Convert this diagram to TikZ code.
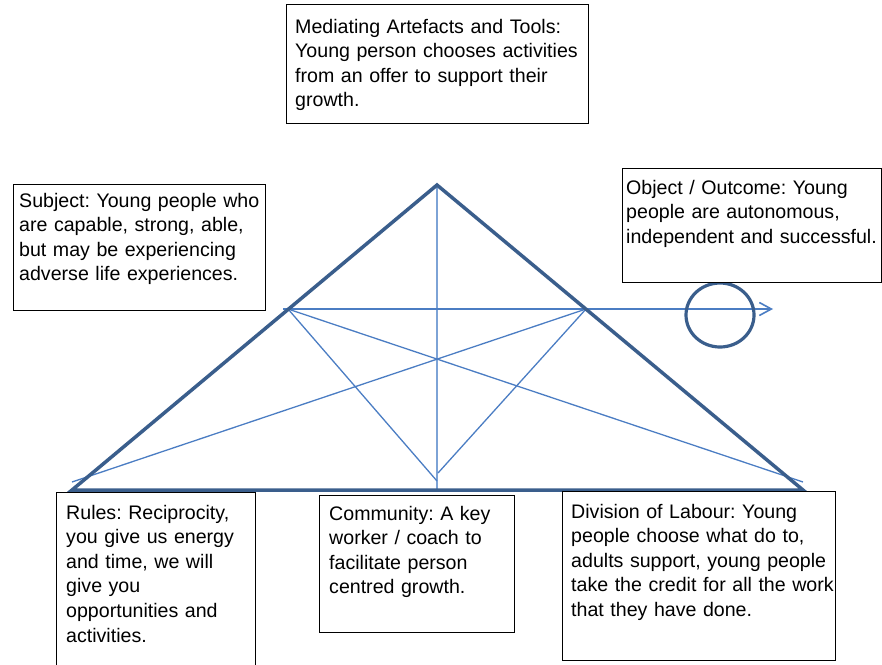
\documentclass[tikz,border=0pt]{standalone}
\usepackage{fontspec}
\setmainfont{Liberation Sans}
\usetikzlibrary{arrows.meta,shapes.geometric}
\definecolor{thickblue}{RGB}{58,94,140}
\definecolor{thinblue}{RGB}{75,125,195}
\definecolor{paleblue}{RGB}{125,163,214}
\begin{document}
\frenchspacing
\begin{tikzpicture}[x=1pt,y=-1pt,
  frame/.style={draw=black, line width=1.1pt, fill=white, rectangle, inner sep=0pt, anchor=north west},
  txt/.style={anchor=base west, inner sep=0pt, text width=330pt, align=left, font=\fontsize{19.6}{24.6}\selectfont\frenchspacing},
  heavy/.style={draw=thickblue, line width=3.5pt, line join=miter},
  thin/.style={draw=thinblue, line width=1.3pt},
  pale/.style={draw=paleblue, line width=1.6pt}]
\useasboundingbox (0,0) rectangle (882,664);
\clip (0,0) rectangle (882,664);

% geometry points
\coordinate (apex) at (437,185);
\coordinate (bl) at (72,490);
\coordinate (br) at (803,490);
\coordinate (pl) at (288,309);
\coordinate (pr) at (586,309);
\coordinate (cl) at (437,481);
\coordinate (cr) at (438,473);
\coordinate (cv) at (437,489);
\coordinate (el) at (72,482);
\coordinate (er) at (803,482);
\coordinate (tip) at (773,309);

% thin construction lines
\draw[pale] (apex) -- (cv);
\draw[thin] (pl) -- (cl);
\draw[thin] (pr) -- (cr);
\draw[thin] (pl) -- (er);
\draw[thin] (pr) -- (el);
\draw[thinblue, line width=1.6pt, -{Straight Barb[length=12pt,width=13pt]}] ([xshift=-5pt]pl) -- (tip);

% main triangle
\draw[heavy] (apex) -- (bl) -- (br) -- cycle;

% outcome ring
\node[draw=thickblue, line width=3.2pt, ellipse, minimum width=68pt, minimum height=64pt, inner sep=0pt] (ring) at (720,315) {};

% boxes
\node[frame, minimum width=302pt, minimum height=119pt] (tools) at (286,4) {};
\node[txt] (toolstext) at (295,33) {Mediating Artefacts and Tools:\\Young person chooses activities\\from an offer to support their\\growth.};

\node[frame, minimum width=252pt, minimum height=126pt] (subject) at (13,184) {};
\node[txt] (subjecttext) at (19,207) {Subject: Young people who\\are capable, strong, able,\\but may be experiencing\\adverse life experiences.};

\node[frame, minimum width=259pt, minimum height=114pt] (object) at (622,168) {};
\node[txt] (objecttext) at (626,194) {Object / Outcome: Young\\people are autonomous,\\independent and successful.};

\node[frame, minimum width=199pt, minimum height=180pt] (rules) at (56,492) {};
\node[txt] (rulestext) at (66,519) {Rules: Reciprocity,\\you give us energy\\and time, we will\\give you\\opportunities and\\activities.};

\node[frame, minimum width=195pt, minimum height=137pt] (community) at (319,495) {};
\node[txt] (communitytext) at (329,520) {Community: A key\\worker / coach to\\facilitate person\\centred growth.};

\node[frame, minimum width=273pt, minimum height=169pt] (division) at (562,491) {};
\node[txt] (divisiontext) at (571,518) {Division of Labour: Young\\people choose what do to,\\adults support, young people\\take the credit for all the work\\that they have done.};
\end{tikzpicture}
\end{document}
